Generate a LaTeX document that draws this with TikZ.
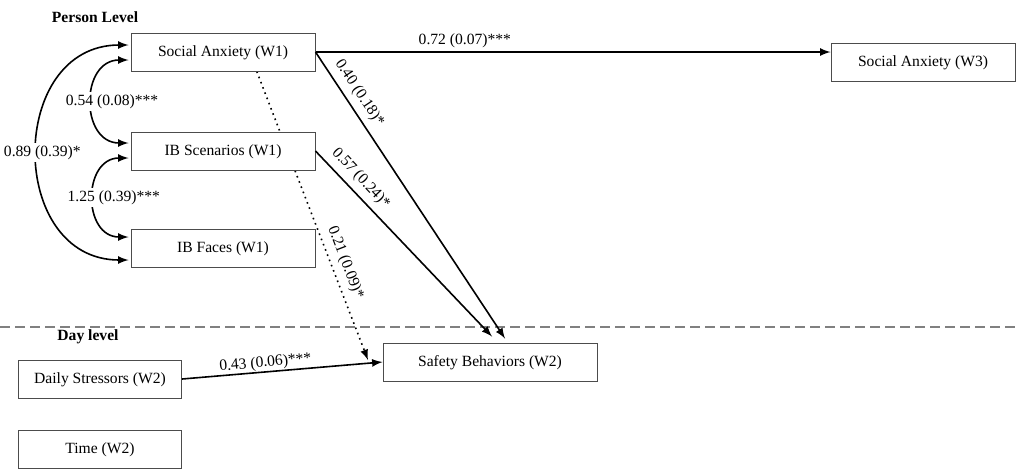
\documentclass[tikz,border=0pt]{standalone}
\usepackage{fontspec}
\setmainfont{Liberation Serif}
\usetikzlibrary{arrows,calc,backgrounds}

\begin{document}
\begin{tikzpicture}[x=0.5pt,y=-0.5pt,font=\fontsize{7.8}{9}\selectfont,
		box/.style={draw=black!70,line width=0.5pt,fill=white,minimum width=92pt,minimum height=19pt,inner sep=0pt,text depth=0.3ex},
		eff/.style={-latex,line width=0.8pt},
		cov/.style={latex-latex,line width=0.8pt},
		coef/.style={inner sep=1.5pt},
		covlbl/.style={fill=white,inner sep=1pt}]
		\useasboundingbox (0,0) rectangle (1020,468);

		% level labels and the split between them
		\node [font=\fontsize{7.8}{9}\selectfont\bfseries] (plev) at (95,17) {Person Level};
		\node [font=\fontsize{7.8}{9}\selectfont\bfseries] (dlev) at (88,337) {Day level};
		\draw [gray, line width=1pt, dash pattern=on 5pt off 2.5pt] (0,327) -- (1020,327);

		% person level variables
		\node [box] (sa) at (223,52) {Social Anxiety (W1)};
		\node [box] (ibs) at (223,151) {IB Scenarios (W1)};
		\node [box] (ibf) at (223,248) {IB Faces (W1)};
		\node [box] (sa3) at (923,62) {Social Anxiety (W3)};

		% day level variables
		\node [box, minimum width=81.5pt] (ds) at (100,379) {Daily Stressors (W2)};
		\node [box, minimum width=81.5pt] (tm) at (100,449) {Time (W2)};
		\node [box, minimum width=107pt] (sb) at (490,362) {Safety Behaviors (W2)};

		\coordinate (sbin) at (368,360);
		\coordinate (sbsa) at ($(sb.north)+(15,-4)$);
		\coordinate (sbibs) at ($(sb.north)+(2,-6)$);

		% covariances
		\draw [cov] ($(sa.west)+(-2,8)$) to [out=180,in=180,looseness=1.5]
			node [covlbl, xshift=10pt] {0.54 (0.08)***} ($(ibs.west)+(-2,-8)$);
		\draw [cov] ($(ibs.west)+(-2,7)$) to [out=180,in=180,looseness=1.5]
			node [covlbl, xshift=10pt] {1.25 (0.39)***} ($(ibf.west)+(-2,-11)$);
		\draw [cov] ($(sa.west)+(-2,-7)$) to [out=180,in=180,looseness=1.45]
			node [covlbl, xshift=2.5pt] {0.89 (0.39)*} ($(ibf.west)+(-2,12)$);

		% paths
		\draw [eff] (sa.east) -- node [coef, above, pos=0.29] {0.72 (0.07)***} (sa3.west |- sa.east);
		\draw [eff] (sa.east) -- node [coef, above=1.5pt, sloped, pos=0.17] {0.40 (0.18)*} (sbsa);
		\draw [eff] (ibs.east) -- node [coef, above=1.5pt, sloped, pos=0.2] {0.57 (0.24)*} (sbibs);
		\begin{pgfonlayer}{background}
		\draw [eff, dotted] (sa.-30) -- node [coef, above=1.5pt, sloped, pos=0.68] {0.21 (0.09)*} (sbin);
		\end{pgfonlayer}
		\draw [eff] (ds.east) -- node [coef, above=-1pt, sloped, pos=0.42] {0.43 (0.06)***} (sb.west);
	\end{tikzpicture}
\end{document}
